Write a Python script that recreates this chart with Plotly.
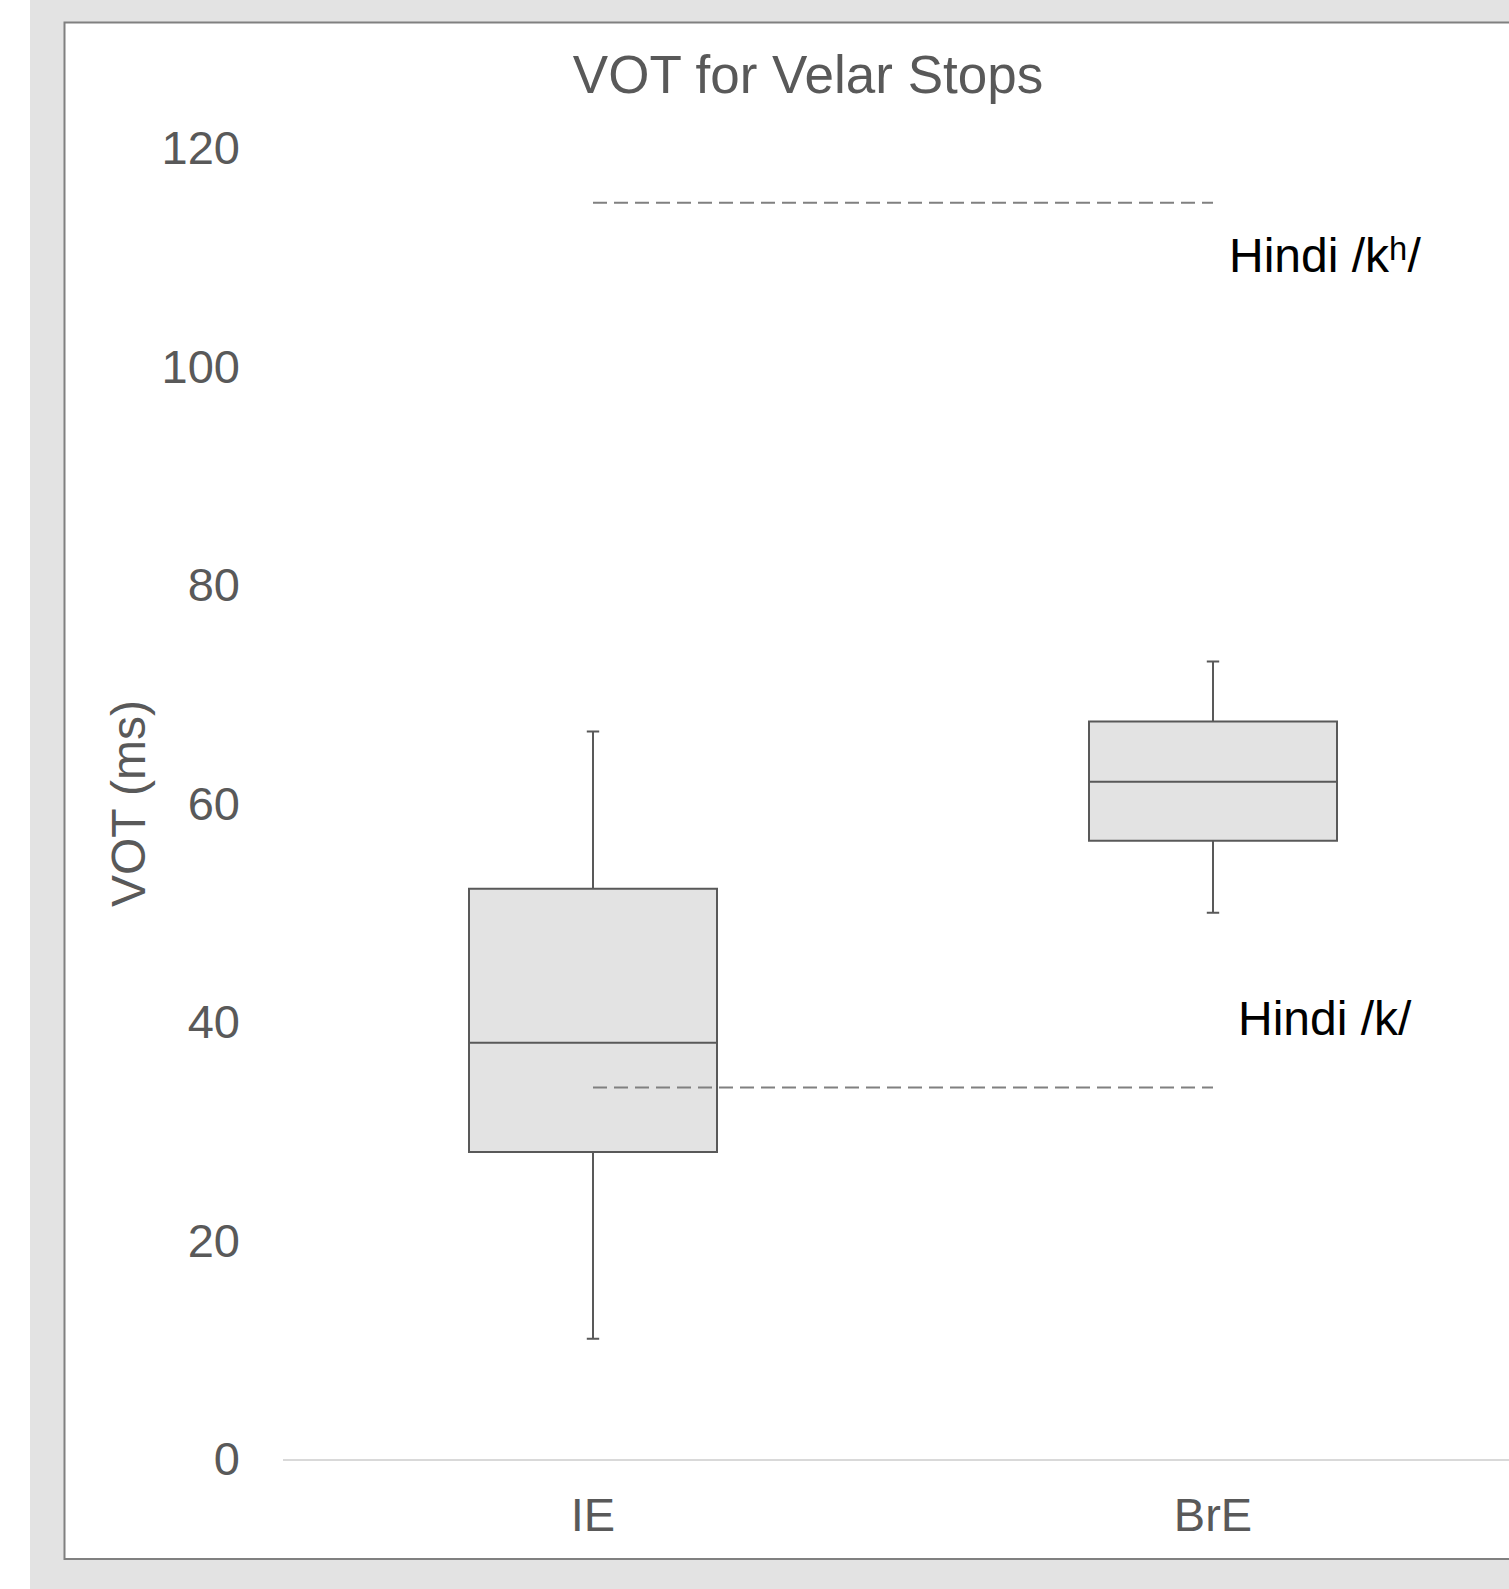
import plotly.graph_objects as go

# Voice onset time (ms) summary per speaker group
groups = ["IE", "BrE"]
lower_whisker = [11.0, 50.0]
q1 = [28.1, 56.6]
median = [38.1, 62.0]
q3 = [52.2, 67.5]
upper_whisker = [66.6, 73.0]

# Hindi reference values (ms)
hindi_labels = ["Hindi /kʰ/", "Hindi /k/"]
hindi_values = [115.0, 34.0]
hindi_label_y = [110.2, 40.3]

y_ticks = [0, 20, 40, 60, 80, 100, 120]

W, H = 1509, 1589
L, R, T, B = 283, 0, 148, 130
PW, PH = W - L - R, H - T - B

def px_x(p):
    return (p - L) / PW

def px_y(p):
    return (H - B - p) / PH

FONT = "Liberation Sans, Arial, sans-serif"
GREY_TXT = "#595959"

fig = go.Figure()

fig.add_trace(go.Box(
    x=groups,
    q1=q1,
    median=median,
    q3=q3,
    lowerfence=lower_whisker,
    upperfence=upper_whisker,
    width=0.4,
    whiskerwidth=0.05,
    boxpoints=False,
    fillcolor="#e3e3e3",
    line=dict(color="#595959", width=2),
    hoverinfo="skip",
    showlegend=False,
))

for v in hindi_values:
    fig.add_trace(go.Scatter(
        x=groups,
        y=[v, v],
        mode="lines",
        line=dict(color="#808080", width=2, dash="14px,7px"),
        hoverinfo="skip",
        showlegend=False,
    ))

for text, ly in zip(hindi_labels, hindi_label_y):
    fig.add_annotation(
        x=1.18, y=ly, xref="x", yref="y",
        text=text, showarrow=False,
        font=dict(family=FONT, size=48, color="#000000"),
        xanchor="center", yanchor="middle",
    )

# outer grey band and framed chart area
fig.add_shape(type="rect", xref="paper", yref="paper",
              x0=px_x(30), x1=px_x(W + 5), y0=px_y(H + 5), y1=px_y(-5),
              fillcolor="#e3e3e3", line=dict(width=0), layer="below")
fig.add_shape(type="rect", xref="paper", yref="paper",
              x0=px_x(64.5), x1=px_x(W + 60), y0=px_y(1559), y1=px_y(22.5),
              fillcolor="#ffffff", line=dict(color="#808080", width=2), layer="below")

fig.update_layout(
    width=W, height=H,
    margin=dict(l=L, r=R, t=T, b=B, autoexpand=False),
    paper_bgcolor="#ffffff",
    plot_bgcolor="rgba(0,0,0,0)",
    font=dict(family=FONT, color=GREY_TXT),
    title=dict(
        text="VOT for Velar Stops",
        x=808 / W, xref="container", xanchor="center",
        y=1 - 74 / H, yref="container", yanchor="middle",
        font=dict(family=FONT, size=53, color=GREY_TXT),
    ),
    showlegend=False,
    hovermode=False,
)

fig.update_xaxes(
    type="category",
    categoryorder="array", categoryarray=groups,
    range=[-0.5, -0.5 + PW / 620],
    showgrid=False, zeroline=False,
    showline=True, linecolor="#d9d9d9", linewidth=2,
    ticks="", ticklabelstandoff=14,
    tickfont=dict(family=FONT, size=47, color=GREY_TXT),
)

fig.update_yaxes(
    range=[0, 120],
    tickvals=y_ticks,
    showgrid=False, zeroline=False, showline=False,
    ticks="", ticklabelstandoff=42,
    tickfont=dict(family=FONT, size=47, color=GREY_TXT),
    title=dict(text="VOT (ms)", standoff=0,
               font=dict(family=FONT, size=48, color=GREY_TXT)),
)

fig.write_html("out.html")
